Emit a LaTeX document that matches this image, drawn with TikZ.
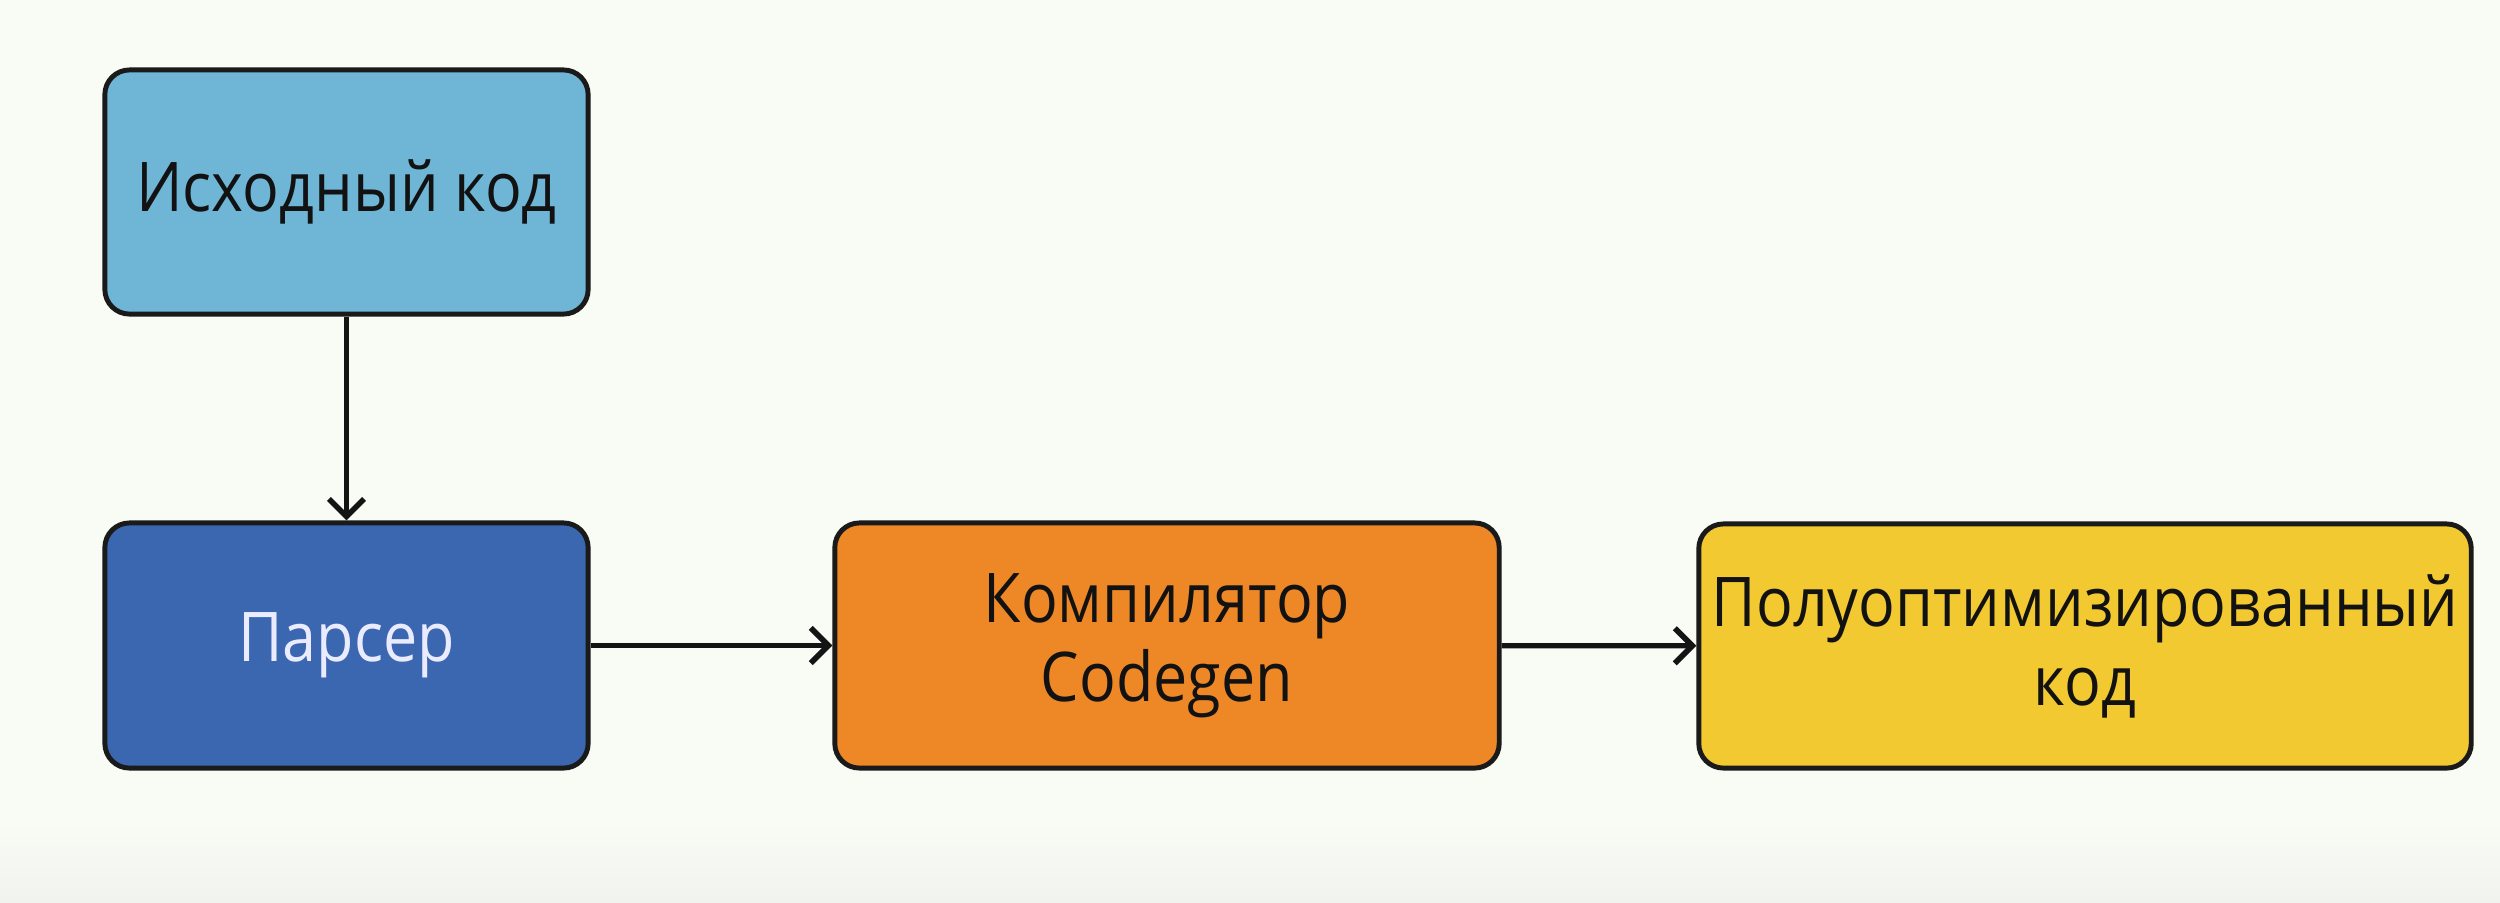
\documentclass[tikz,border=0pt]{standalone}
\usepackage{fontspec}
\setmainfont[FakeStretch=0.89]{Open Sans}
\usetikzlibrary{arrows.meta,positioning}
\definecolor{bgc}{HTML}{F9FCF5}
\definecolor{bgb}{HTML}{F1F3EE}
\definecolor{srcc}{HTML}{6FB5D6}
\definecolor{parc}{HTML}{3B67B1}
\definecolor{comc}{HTML}{EE8726}
\definecolor{outc}{HTML}{F2C931}
\definecolor{edgec}{HTML}{1A1A1A}
\definecolor{txtc}{HTML}{121212}
\tikzset{
  box/.style={draw=edgec, line width=1.4pt, rounded corners=7pt, align=center,
    font=\fontsize{19.5}{22.5}\selectfont, text=txtc, inner sep=0pt},
  conn/.style={draw=black!92, line width=1.5pt, -{Straight Barb[length=5pt,width=10pt,line width=1.6pt]}}
}
\begin{document}
\begin{tikzpicture}[x=0.01cm,y=-0.01cm]
\fill[bgc] (0,0) rectangle (2500,902);
\shade[top color=bgc, bottom color=bgb] (0,820) rectangle (2500,902);
\useasboundingbox (0,0) rectangle (2500,902);
\node[box, fill=srcc, minimum width=4.83cm, minimum height=2.44cm] (src) at (346.5,192) {Исходный код};
\node[box, fill=parc, text=white!92!blue, minimum width=4.83cm, minimum height=2.45cm] (par) at (346.5,645.5) {Парсер};
\node[box, fill=comc, minimum width=6.64cm, minimum height=2.45cm] (com) at (1167,645.5) {Компилятор\\Codegen};
\node[box, fill=outc, minimum width=7.72cm, minimum height=2.44cm] (out) at (2085,646) {Полуоптимизированный\\код};
\draw[conn] (src) -- (par);
\draw[conn] (par) -- (com);
\draw[conn] (com) -- (out);
\end{tikzpicture}
\end{document}
